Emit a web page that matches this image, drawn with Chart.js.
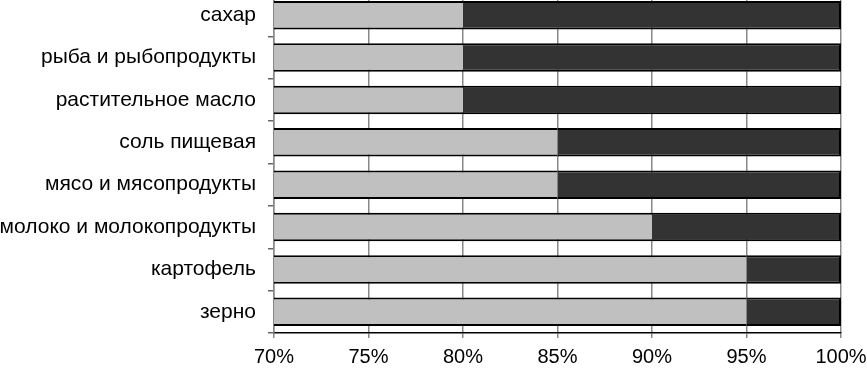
<!DOCTYPE html>
<html><head><meta charset="utf-8">
<script src="https://cdn.jsdelivr.net/npm/chart.js@4"></script>
<style>
html,body{margin:0;padding:0;background:#fff;overflow:hidden;}
#wrap{position:absolute;left:0;top:-6px;width:867px;height:377px;}
</style></head>
<body><div id="wrap"><canvas id="c" width="867" height="377"></canvas></div>
<script>
const categories = ["сахар","рыба и рыбопродукты","растительное масло","соль пищевая","мясо и мясопродукты","молоко и молокопродукты","картофель","зерно"];
const lightValues = [80,80,80,85,85,90,95,95];
const darkValues = [20,20,20,15,15,10,5,5];
const xMin = 70, xMax = 100, xStep = 5;
const font = "'Liberation Sans', Arial, sans-serif";

new Chart(document.getElementById('c'), {
  type: 'bar',
  data: {
    labels: categories,
    datasets: [
      {data: lightValues, backgroundColor: '#c0c0c0', borderColor: '#000', borderWidth: 2, borderSkipped: 'end', categoryPercentage: 1, barPercentage: 0.67},
      {data: darkValues, backgroundColor: '#333333', borderColor: '#000', borderWidth: 2, borderSkipped: 'start', categoryPercentage: 1, barPercentage: 0.67}
    ]
  },
  options: {
    indexAxis: 'y',
    responsive: false,
    animation: false,
    events: [],
    layout: {padding: {left: 0, right: 26, top: 0, bottom: 0}},
    plugins: {legend: {display: false}, tooltip: {enabled: false}},
    scales: {
      x: {
        stacked: true, min: xMin, max: xMax,
        afterFit: s => { s.height = 38; s.paddingLeft = 0; s.paddingRight = 0; s.paddingTop = 0; s.paddingBottom = 0; },
        ticks: {stepSize: xStep, callback: v => v + '%', color: '#000', font: {family: font, size: 20}, padding: 7, maxRotation: 0},
        grid: {color: '#888', lineWidth: 1.5, tickLength: 5},
        border: {color: '#000', width: 1.5}
      },
      y: {
        stacked: true,
        afterFit: s => { s.width = 274; s.paddingLeft = 0; s.paddingRight = 0; s.paddingTop = 0; s.paddingBottom = 0; },
        ticks: {color: '#000', font: {family: font, size: 21}, padding: 12},
        grid: {drawOnChartArea: false, color: '#666', lineWidth: 1.5, tickLength: 6, offset: true},
        border: {color: '#888', width: 1.5}
      }
    }
  }
});
</script></body></html>
